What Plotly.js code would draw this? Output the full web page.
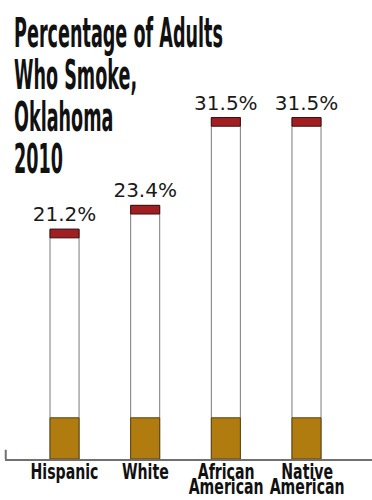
<!DOCTYPE html>
<html>
<head>
<meta charset="utf-8">
<script src="https://cdn.plot.ly/plotly-3.0.1.min.js"></script>
<style>
html,body{margin:0;padding:0;background:#fff;}
#chart{width:372px;height:500px;}
</style>
</head>
<body>
<div id="chart"></div>
<script>
// ---- data ----
var categories = ["Hispanic", "White", "African American", "Native American"];
var categoryLabels = ["Hispanic", "White", "African<br>American", "Native<br>American"];
var smokePct = [21.2, 23.4, 31.5, 31.5];
var valueLabels = ["21.2%", "23.4%", "31.5%", "31.5%"];
var titleLines = ["Percentage of Adults", "Who Smoke,", "Oklahoma", "2010"];

// ---- style constants (cigarette drawing) ----
var FILTER_LEN = 3.8;   // in y units
var TIP_LEN = 0.8;
var BAR_W = 0.36;
var NARROW = "'DejaVu Sans Condensed', 'DejaVu Sans', sans-serif";
var TITLE_FS = 40, TITLE_W = 209, TITLE_LH = 42;
var CAT_FS = 21, CAT_W = 68, CAT_LH = 15;

var bodyTrace = {
  type: "bar", x: categories, y: smokePct, width: BAR_W,
  marker: {color: "#ffffff", line: {color: "#7a7a7a", width: 1}},
  text: valueLabels, textposition: "outside", constraintext: "none", cliponaxis: false,
  textfont: {family: "'DejaVu Sans', Verdana, sans-serif", size: 20, color: "#1a1a1a"},
  hoverinfo: "skip", showlegend: false
};
var filterTrace = {
  type: "bar", x: categories, y: categories.map(function(){return FILTER_LEN;}), width: BAR_W,
  marker: {color: "#b07c10", line: {color: "#5a4212", width: 1}},
  hoverinfo: "skip", showlegend: false
};
var tipTrace = {
  type: "bar", x: categories,
  base: smokePct.map(function(v){return v - TIP_LEN;}),
  y: smokePct.map(function(){return TIP_LEN;}), width: BAR_W,
  marker: {color: "#a11f22", line: {color: "#3b1010", width: 1}},
  hoverinfo: "skip", showlegend: false
};

var annotations = [];
titleLines.forEach(function(t, i){
  annotations.push({
    text: "<b>" + t + "</b>", xref: "paper", yref: "paper", x: 0, y: 1, xanchor: "left", yanchor: "top",
    xshift: 7, yshift: 12 - i * TITLE_LH, showarrow: false,
    font: {family: NARROW, size: TITLE_FS, color: "#111"}
  });
});
categoryLabels.forEach(function(lbl, ci){
  var parts = lbl.split("<br>").map(function(p){return "<b>" + p + "</b>";});
  annotations.push({
    text: parts.join("<br>"), xref: "x", yref: "y", x: categories[ci], y: 0,
    xanchor: "center", yanchor: "top", yshift: 1, showarrow: false,
    font: {family: NARROW, size: CAT_FS, color: "#111"}
  });
});

var layout = {
  width: 372, height: 500,
  margin: {l: 5, r: 0, t: 20, b: 41},
  paper_bgcolor: "#ffffff", plot_bgcolor: "#ffffff",
  barmode: "overlay",
  xaxis: {range: [-0.738, 3.812], showticklabels: false, ticks: "", showgrid: false,
          zeroline: false, showline: true, linecolor: "#707070", linewidth: 2, fixedrange: true},
  yaxis: {range: [0, 40.5], visible: false, fixedrange: true},
  annotations: annotations,
  shapes: [{type: "line", xref: "paper", yref: "y", x0: 0.002, x1: 0.002, y0: 0, y1: 0.85,
            line: {color: "#707070", width: 2}}],
  showlegend: false
};

function squeeze(el, s, anchor) {
  var bb = el.getBBox();
  var ax = anchor === "left" ? bb.x : bb.x + bb.width / 2;
  var prev = el.getAttribute("transform") || "";
  el.setAttribute("transform", prev + " translate(" + ax + ",0) scale(" + s + ",1) translate(" + (-ax) + ",0)");
}

Plotly.newPlot("chart", [bodyTrace, filterTrace, tipTrace], layout, {displayModeBar: false, staticPlot: true})
.then(function(gd){
  var groups = gd.querySelectorAll("g.annotation");
  var titleEls = [], catEls = [];
  groups.forEach(function(g){
    var idx = +g.getAttribute("data-index");
    var t = g.querySelector("text.annotation-text");
    if (!t) return;
    if (idx < titleLines.length) titleEls[idx] = t; else catEls[idx - titleLines.length] = t;
  });
  // tighter line spacing on two-line category labels
  catEls.forEach(function(t){
    var lines = t.querySelectorAll("tspan.line");
    if (lines.length > 1) {
      var d0 = parseFloat(lines[0].getAttribute("dy")) || 0;
      lines.forEach(function(ln, i){ ln.setAttribute("dy", (d0 * CAT_FS + i * CAT_LH) + "px"); });
    }
  });
  var sT = TITLE_W / titleEls[0].getBBox().width;
  titleEls.forEach(function(t){ squeeze(t, sT, "left"); });
  var sC = CAT_W / catEls[0].getBBox().width;
  catEls.forEach(function(t){ squeeze(t, sC, "center"); });
});
</script>
</body>
</html>
